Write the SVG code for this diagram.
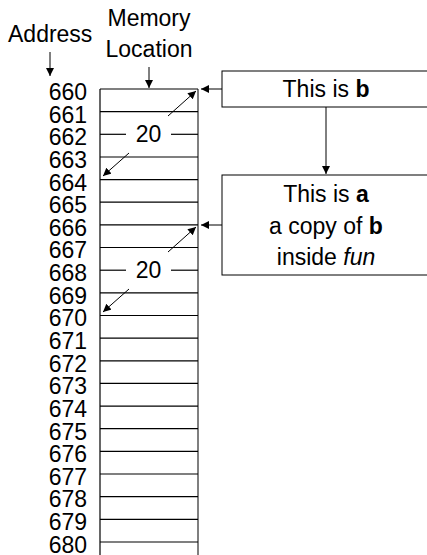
<svg xmlns="http://www.w3.org/2000/svg" width="427" height="555" viewBox="0 0 427 555">
<style>
text{font-family:"Liberation Sans",Arial,sans-serif;font-size:23px;fill:#000}
.lbl{text-anchor:end}
.mid{text-anchor:middle}
.row{stroke:#000;stroke-width:1.2;fill:none}
.con{stroke:#000;stroke-width:1;fill:none}
.box{fill:#fff;stroke:#000;stroke-width:1}
</style>
<defs>
<marker id="ah" markerUnits="userSpaceOnUse" markerWidth="10" markerHeight="8" refX="8" refY="4" orient="auto">
<path d="M0,0 L8,4 L0,8 Z" fill="#000"/>
</marker>
</defs>
<rect width="427" height="555" fill="#fff"/>
<g id="headers">
<text x="8" y="42">Address</text>
<text class="mid" x="149" y="26">Memory</text>
<text class="mid" x="149" y="57">Location</text>
</g>
<g id="memory">
<line class="row" x1="100" y1="89" x2="100" y2="555"/>
<line x1="198" y1="89" x2="198" y2="555" stroke="#555" stroke-width="1.5"/>
<line class="row" x1="100" y1="89" x2="198" y2="89"/>
<line class="row" x1="100" y1="111.6" x2="198" y2="111.6"/>
<line class="row" x1="100" y1="134.3" x2="126" y2="134.3"/>
<line class="row" x1="171" y1="134.3" x2="198" y2="134.3"/>
<line class="row" x1="100" y1="157" x2="198" y2="157"/>
<line class="row" x1="100" y1="179.6" x2="198" y2="179.6"/>
<line class="row" x1="100" y1="202.2" x2="198" y2="202.2"/>
<line class="row" x1="100" y1="224.9" x2="198" y2="224.9"/>
<line class="row" x1="100" y1="247.5" x2="198" y2="247.5"/>
<line class="row" x1="100" y1="270.2" x2="126" y2="270.2"/>
<line class="row" x1="171" y1="270.2" x2="198" y2="270.2"/>
<line class="row" x1="100" y1="292.8" x2="198" y2="292.8"/>
<line class="row" x1="100" y1="315.5" x2="198" y2="315.5"/>
<line class="row" x1="100" y1="338.1" x2="198" y2="338.1"/>
<line class="row" x1="100" y1="360.8" x2="198" y2="360.8"/>
<line class="row" x1="100" y1="383.4" x2="198" y2="383.4"/>
<line class="row" x1="100" y1="406.1" x2="198" y2="406.1"/>
<line class="row" x1="100" y1="428.7" x2="198" y2="428.7"/>
<line class="row" x1="100" y1="451.4" x2="198" y2="451.4"/>
<line class="row" x1="100" y1="474" x2="198" y2="474"/>
<line class="row" x1="100" y1="496.7" x2="198" y2="496.7"/>
<line class="row" x1="100" y1="519.3" x2="198" y2="519.3"/>
<line class="row" x1="100" y1="542" x2="198" y2="542"/>
<text class="mid" x="148.5" y="142">20</text>
<text class="mid" x="148.5" y="278">20</text>
</g>
<g id="addresses">
<text class="lbl" x="87" y="100">660</text>
<text class="lbl" x="87" y="122.6">661</text>
<text class="lbl" x="87" y="145.3">662</text>
<text class="lbl" x="87" y="167.9">663</text>
<text class="lbl" x="87" y="190.5">664</text>
<text class="lbl" x="87" y="213.2">665</text>
<text class="lbl" x="87" y="235.8">666</text>
<text class="lbl" x="87" y="258.4">667</text>
<text class="lbl" x="87" y="281">668</text>
<text class="lbl" x="87" y="303.7">669</text>
<text class="lbl" x="87" y="326.3">670</text>
<text class="lbl" x="87" y="348.9">671</text>
<text class="lbl" x="87" y="371.6">672</text>
<text class="lbl" x="87" y="394.2">673</text>
<text class="lbl" x="87" y="416.8">674</text>
<text class="lbl" x="87" y="439.5">675</text>
<text class="lbl" x="87" y="462.1">676</text>
<text class="lbl" x="87" y="484.7">677</text>
<text class="lbl" x="87" y="507.3">678</text>
<text class="lbl" x="87" y="530">679</text>
<text class="lbl" x="87" y="552.6">680</text>
</g>
<g id="box-b">
<rect class="box" x="222" y="71" width="220" height="36"/>
<text class="mid" x="326" y="97">This is <tspan font-weight="bold">b</tspan></text>
</g>
<g id="box-a">
<rect class="box" x="222" y="175" width="220" height="100"/>
<text class="mid" x="326" y="202">This is <tspan font-weight="bold">a</tspan></text>
<text class="mid" x="326" y="234">a copy of <tspan font-weight="bold">b</tspan></text>
<text class="mid" x="326" y="265">inside <tspan font-style="italic">fun</tspan></text>
</g>
<g id="connectors">
<line class="con" x1="50" y1="52" x2="50" y2="76" marker-end="url(#ah)"/>
<line class="con" x1="149" y1="67" x2="149" y2="88" marker-end="url(#ah)"/>
<line class="con" x1="222" y1="89" x2="201" y2="89" marker-end="url(#ah)"/>
<line class="con" x1="222" y1="225" x2="201" y2="225" marker-end="url(#ah)"/>
<line class="con" x1="326" y1="107" x2="326" y2="174" marker-end="url(#ah)"/>
<line class="con" x1="168" y1="116" x2="196" y2="91" marker-end="url(#ah)"/>
<line class="con" x1="129" y1="153" x2="103" y2="176" marker-end="url(#ah)"/>
<line class="con" x1="168" y1="252" x2="196" y2="227" marker-end="url(#ah)"/>
<line class="con" x1="129" y1="289" x2="103" y2="312" marker-end="url(#ah)"/>
</g>
</svg>
